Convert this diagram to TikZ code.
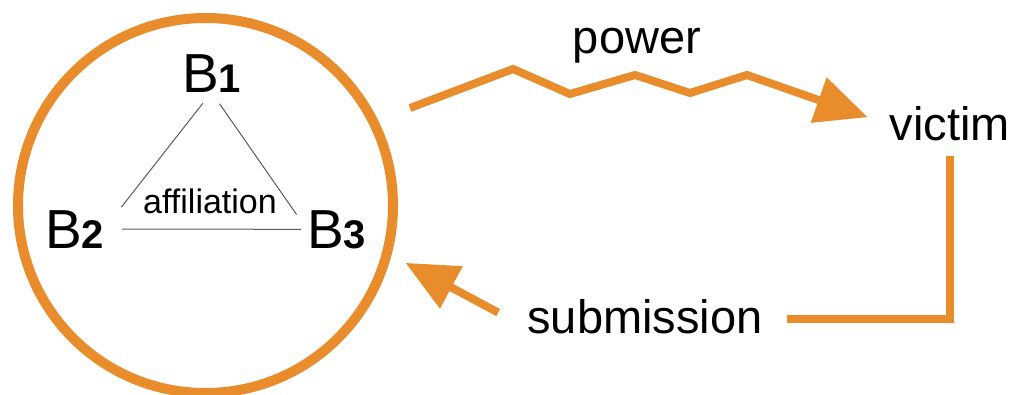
\documentclass[tikz,border=0pt]{standalone}
\usepackage{fontspec}
\setmainfont{Liberation Sans}
\usetikzlibrary{arrows.meta}
\definecolor{mob-orange}{HTML}{E88C2C}
\colorlet{force}{mob-orange}
\newcommand{\tikzmember}[1]{B{\fontsize{40}{40}\selectfont\bfseries#1}}
\begin{document}
\begin{tikzpicture}[x=1pt,y=-1pt,
  member/.style={inner sep=0pt,anchor=base,font=\fontsize{55}{55}\selectfont},
  word/.style={inner sep=0pt,anchor=base,font=\fontsize{47}{47}\selectfont},
  tie/.style={draw=black!65,line width=1pt},
  thrust/.style={draw=force,line width=8pt,-{Triangle[length=52pt,width=46pt]}}]
\useasboundingbox (0,0) rectangle (1013,394);
% group circle
\node[circle,draw=force,line width=10pt,minimum size=375pt,inner sep=0pt] (group) at (205.5,205.5) {};
% members and their ties
\node[member] (B1) at (211.5,92) {\tikzmember{1}};
\node[member] (B2) at (74.5,248) {\tikzmember{2}};
\node[member] (B3) at (336.5,248) {\tikzmember{3}};
\draw[tie,shorten <=14pt,shorten >=28pt] (B1.south) -- (B2.east);
\draw[tie,shorten <=14pt,shorten >=18pt] (B1.south) -- (B3.west);
\draw[tie,shorten <=18pt,shorten >=6pt] (B2.east) -- (B3.west);
\node[inner sep=0pt,anchor=base,font=\fontsize{34}{34}\selectfont] (affiliation) at (210,213) {affiliation};
% labels
\node[word] (power) at (637,53) {power};
\node[word] (victim) at (950,140) {victim};
\node[word] (submission) at (645,333) {submission};
% power zigzag
\coordinate (zstart) at (410,108);
\draw[thrust] (zstart) -- (513,69) -- (570,94) -- (635,75) -- (690,93) -- (747,75) -- ([xshift=-22pt,yshift=6pt]victim.west);
% back from the victim
\draw[draw=force,line width=8pt,shorten <=15pt,shorten >=24pt] (victim.south) |- ([yshift=-3pt]submission.east);
\draw[thrust,shorten <=33pt,shorten >=16pt] ([yshift=-12pt]submission.west) -- (group.-15);
\end{tikzpicture}
\end{document}
